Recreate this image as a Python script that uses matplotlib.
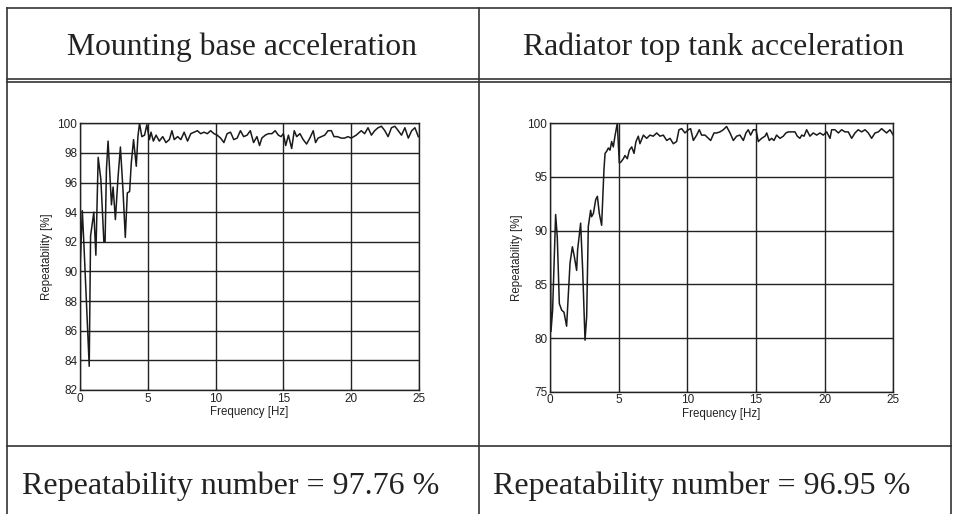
import matplotlib.pyplot as plt
from matplotlib.lines import Line2D

# Mounting base acceleration (left plot)
freq_base = [0.00, 0.17, 0.29, 0.68, 0.78, 1.02, 1.17, 1.34, 1.54, 1.76, 1.85, 1.95,
             2.07, 2.20, 2.32, 2.44, 2.61, 2.80, 2.98, 3.17, 3.34, 3.49, 3.66, 3.78,
             3.95, 4.15, 4.27, 4.39, 4.56, 4.76, 4.93, 5.12, 5.24, 5.41, 5.61, 5.85,
             6.10, 6.34, 6.59, 6.78, 6.95, 7.20, 7.44, 7.68, 7.93, 8.17, 8.41, 8.66,
             8.90, 9.15, 9.39, 9.63, 9.88, 10.12, 10.37, 10.61, 10.85, 11.10, 11.34,
             11.59, 11.83, 12.07, 12.32, 12.56, 12.80, 13.05, 13.24, 13.41, 13.66,
             13.90, 14.15, 14.39, 14.63, 14.83, 15.00, 15.17, 15.37, 15.61, 15.80,
             15.98, 16.22, 16.46, 16.71, 16.95, 17.20, 17.37, 17.56, 17.80, 18.05,
             18.29, 18.54, 18.73, 18.98, 19.27, 19.51, 19.76, 20.00, 20.37, 20.74,
             20.99, 21.24, 21.49, 21.73, 21.98, 22.23, 22.48, 22.72, 22.97, 23.22,
             23.47, 23.71, 23.96, 24.21, 24.46, 24.70, 24.95]
rep_base = [90.1, 94.1, 91.8, 83.6, 92.4, 94.0, 91.1, 97.7, 96.2, 92.0, 92.0, 96.9,
            98.8, 96.6, 94.5, 95.7, 93.5, 96.3, 98.4, 95.5, 92.3, 95.3, 95.4, 97.3,
            98.9, 97.1, 99.1, 100.0, 99.1, 99.2, 99.9, 98.9, 99.4, 98.8, 99.2, 98.8,
            99.1, 98.7, 98.9, 99.5, 98.9, 99.1, 98.9, 99.4, 98.8, 99.3, 99.4, 99.5,
            99.3, 99.4, 99.3, 99.5, 99.3, 99.2, 99.0, 98.7, 99.3, 99.4, 98.9,
            99.0, 99.5, 99.1, 99.2, 99.5, 98.7, 99.1, 98.5, 99.0, 99.2,
            99.3, 99.3, 99.5, 99.2, 99.1, 99.3, 98.5, 99.2, 98.3, 99.5,
            99.1, 99.3, 98.9, 98.6, 99.0, 99.5, 98.7, 99.0, 99.1, 99.2,
            99.5, 99.5, 99.1, 99.1, 99.0, 99.0, 99.1, 99.0, 99.2, 99.5,
            99.3, 99.7, 99.2, 99.5, 99.7, 99.8, 99.5, 99.1, 99.7, 99.8,
            99.5, 99.2, 99.7, 99.0, 99.5, 99.7, 99.1]

# Radiator top tank acceleration (right plot)
freq_tank = [0.00, 0.07, 0.19, 0.41, 0.53, 0.68, 0.85, 1.02, 1.21, 1.33, 1.46, 1.63,
             1.77, 1.94, 2.01, 2.23, 2.38, 2.55, 2.67, 2.79, 2.96, 3.03, 3.16, 3.33,
             3.45, 3.59, 3.76, 3.93, 4.01, 4.13, 4.25, 4.37, 4.49, 4.61, 4.73, 4.90,
             5.05, 5.17, 5.34, 5.46, 5.63, 5.78, 5.95, 6.12, 6.26, 6.43, 6.55, 6.80,
             7.04, 7.28, 7.52, 7.77, 8.01, 8.25, 8.50, 8.74, 8.98, 9.22, 9.39, 9.59,
             9.83, 10.07, 10.24, 10.44, 10.68, 10.87, 11.04, 11.29, 11.53, 11.70,
             11.94, 12.14, 12.38, 12.62, 12.86, 13.11, 13.35, 13.59, 13.83, 14.08,
             14.27, 14.44, 14.61, 14.81, 15.00, 15.17, 15.41, 15.66, 15.78, 15.97,
             16.14, 16.31, 16.50, 16.75, 16.99, 17.18, 17.35, 17.60, 17.84, 18.01,
             18.20, 18.33, 18.50, 18.69, 18.93, 19.17, 19.42, 19.66, 19.90, 20.15,
             20.39, 20.51, 20.75, 21.00, 21.24, 21.48, 21.72, 21.97, 22.21, 22.45,
             22.69, 22.94, 23.18, 23.42, 23.67, 23.91, 24.15, 24.51, 24.76, 25.00]
rep_tank = [93.0, 80.6, 82.6, 91.5, 89.4, 83.2, 82.6, 82.4, 81.1, 83.9, 87.0, 88.5,
            87.6, 86.3, 88.2, 90.7, 86.3, 79.8, 82.0, 90.4, 91.9, 91.3, 91.6, 92.9,
            93.2, 91.6, 90.5, 95.7, 97.2, 97.4, 97.7, 97.5, 98.3, 97.8, 98.8, 100.0,
            96.3, 96.4, 96.7, 97.0, 96.7, 97.5, 97.8, 97.2, 98.3, 98.8, 98.1, 98.9,
            98.6, 98.9, 98.8, 99.1, 98.8, 98.9, 98.4, 98.6, 98.1, 98.3, 99.4, 99.5,
            99.1, 99.4, 99.5, 98.4, 98.9, 99.4, 98.9, 98.9, 98.6, 98.4,
            99.1, 99.1, 99.2, 99.4, 99.7, 99.1, 98.4, 98.8, 98.9, 98.4,
            99.1, 99.4, 98.9, 99.4, 99.4, 98.3, 98.6, 98.8, 99.1, 98.4,
            98.6, 98.4, 98.9, 98.6, 98.8, 99.1, 99.2, 99.2, 99.2, 98.8,
            98.6, 98.9, 98.8, 99.4, 98.8, 99.1, 98.9, 99.1, 98.9, 99.2,
            98.6, 99.4, 99.4, 99.1, 99.4, 99.2, 99.2, 98.6, 99.1, 99.4,
            99.2, 99.4, 99.1, 98.6, 99.1, 99.2, 99.5, 99.1, 99.4, 98.9]

titles = ['Mounting base acceleration', 'Radiator top tank acceleration']
numbers = ['Repeatability number = 97.76 %', 'Repeatability number = 96.95 %']

W, H = 957, 514
fig = plt.figure(figsize=(W / 100, H / 100), dpi=100)


def fx(px):
    return px / W


def fy(py):
    return 1 - py / H


def hline(y, x0, x1, lw=1.2):
    fig.add_artist(Line2D([fx(x0), fx(x1)], [fy(y), fy(y)], color='#333333', lw=lw))


def vline(x, y0, y1, lw=1.2):
    fig.add_artist(Line2D([fx(x), fx(x)], [fy(y0), fy(y1)], color='#333333', lw=lw))


# table frame
hline(8, 7, 951)
hline(79, 7, 951)
hline(81.5, 7, 951)
hline(446, 7, 951)
vline(7, 8, 514)
vline(479, 8, 514)
vline(951, 8, 514)

serif = 'Liberation Serif'
fig.text(fx(242), fy(47), titles[0], family=serif, fontsize=22.8, ha='center', va='center', color='#222222')
fig.text(fx(714), fy(47), titles[1], family=serif, fontsize=22.8, ha='center', va='center', color='#222222')
fig.text(fx(231), fy(486), numbers[0], family=serif, fontsize=23, ha='center', va='center', color='#222222')
fig.text(fx(702), fy(486), numbers[1], family=serif, fontsize=23, ha='center', va='center', color='#222222')

sans = 'Liberation Sans'
panels = [
    ([80, 123.3, 419, 390], freq_base, rep_base, (82, 100), range(82, 101, 2)),
    ([550, 123.3, 893.3, 391.7], freq_tank, rep_tank, (75, 100), range(75, 101, 5)),
]
for (x0, y0, x1, y1), f, r, ylim, yticks in panels:
    ax = fig.add_axes([fx(x0), fy(y1), fx(x1) - fx(x0), fy(y0) - fy(y1)])
    ax.plot(f, r, color='#1a1a1a', lw=1.1)
    ax.set_xlim(0, 25)
    ax.set_ylim(*ylim)
    ax.set_xticks(range(0, 26, 5))
    ax.set_yticks(list(yticks))
    ax.grid(True, color='#222222', lw=1.0)
    ax.set_axisbelow(True)
    ax.tick_params(direction='in', length=2, labelsize=8.5, pad=2, colors='#222222')
    for lab in ax.get_xticklabels() + ax.get_yticklabels():
        lab.set_family(sans)
    for s in ax.spines.values():
        s.set_color('#222222')
        s.set_linewidth(1.0)
    ax.set_xlabel('Frequency [Hz]', family=sans, fontsize=8.3, labelpad=1, color='#222222')
    ax.set_ylabel('Repeatability [%]', family=sans, fontsize=8.3, labelpad=3, color='#222222')

fig.savefig('out.png', dpi=100)
